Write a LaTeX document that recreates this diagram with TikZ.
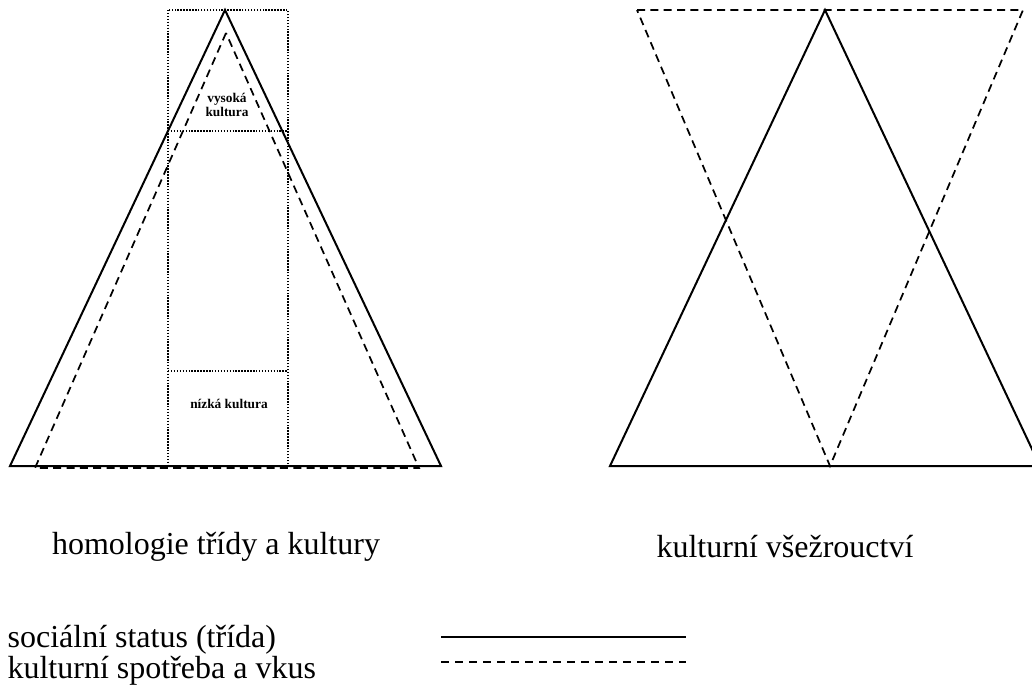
\documentclass[tikz,border=0pt]{standalone}
\usepackage{fontspec}
\setmainfont{Liberation Serif}

\begin{document}
\begin{tikzpicture}[x=0.75pt, y=-0.75pt]
\tikzstyle{status}=[line width=1.5pt]
\tikzstyle{vkus}=[line width=1.3pt, dash pattern=on 6pt off 4pt]
\tikzstyle{vrstva}=[line width=1.5pt, dash pattern=on 1.1pt off 1.1pt]
\tikzstyle{popis}=[font=\fontsize{24}{28}\selectfont, inner sep=1pt]
\tikzstyle{maly}=[font=\fontsize{10}{11}\selectfont\bfseries, align=center, inner sep=1pt]
\clip (0,0) rectangle (1032,697);

	% homologie
	\coordinate (hs) at (225,10);
	\coordinate (hl) at (10,466);
	\coordinate (hr) at (441,466);
	\coordinate (ks) at (226,33);
	\coordinate (kl) at (35,468);
	\coordinate (kr) at (419,468);
	\draw[status] (hs) -- (hl) -- (hr) -- cycle;
	\draw[vkus] (ks) -- (kl) -- (kr) -- cycle;
	\draw[vrstva] (168,10) rectangle (288,466);
	\draw[vrstva] (168,131) -- (288,131);
	\draw[vrstva] (168,371) -- (288,371);
	\node[maly] (vysoka) at (227,105) {vysoká\\kultura};
	\node[maly] (nizka) at (229,404) {nízká kultura};

	% vsezrouctvi
	\coordinate (os) at (825,10);
	\coordinate (ol) at (610,466);
	\coordinate (or) at (1040,466);
	\coordinate (vl) at (637,10);
	\coordinate (vr) at (1023,10);
	\coordinate (vd) at (830,466);
	\draw[status] (os) -- (ol) -- (or) -- cycle;
	\draw[vkus] (vl) -- (vr) -- (vd) -- cycle;

	\node[popis] (homol) at (216,547) {homologie třídy a kultury};
	\node[popis] (omni) at (785,547) {kulturní všežrouctví};

	% legenda
	\node[popis, anchor=west] (trida) at (6,640) {sociální status (třída)};
	\node[popis, anchor=west] (vkus) at (6,671) {kulturní spotřeba a vkus};
	\coordinate (la) at (441,637);
	\coordinate (lb) at (686,637);
	\coordinate (lc) at (441,662);
	\coordinate (ld) at (686,662);
	\draw[status] (la) -- (lb);
	\draw[line width=1pt, dash pattern=on 6pt off 4.5pt] (lc) -- (ld);
\end{tikzpicture}
\end{document}
